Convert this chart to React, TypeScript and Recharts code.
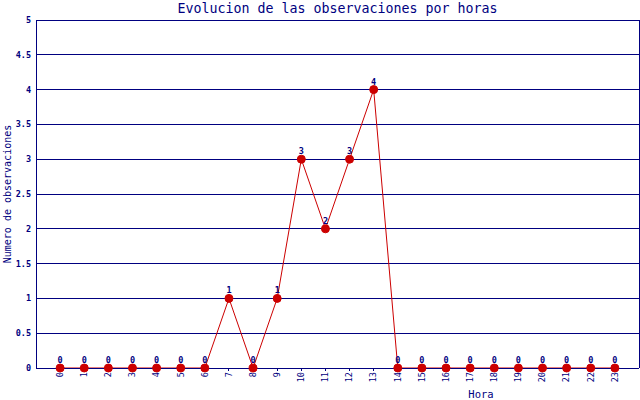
import React from 'react';
import {
  LineChart,
  Line,
  XAxis,
  YAxis,
  CartesianGrid,
  ReferenceLine,
  LabelList,
} from 'recharts';

const hours = [0, 1, 2, 3, 4, 5, 6, 7, 8, 9, 10, 11, 12, 13, 14, 15, 16, 17, 18, 19, 20, 21, 22, 23];
const observations = [0, 0, 0, 0, 0, 0, 0, 1, 0, 1, 3, 2, 3, 4, 0, 0, 0, 0, 0, 0, 0, 0, 0, 0];
const yTicks = [0, 0.5, 1, 1.5, 2, 2.5, 3, 3.5, 4, 4.5, 5];

const data = hours.map((h, i) => ({ hora: h, obs: observations[i] }));

const NAVY = '#000080';
const RED = '#cc0000';
const MONO = '"DejaVu Sans Mono", monospace';

const HourTick = (props: any) => {
  const { x, payload } = props;
  return (
    <text
      x={x}
      y={372}
      transform={`rotate(-90, ${x}, 372)`}
      textAnchor="end"
      dy="0.33em"
      fill={NAVY}
      fontSize={8.5}
      fontFamily={MONO}
    >
      {payload.value}
    </text>
  );
};

const App: React.FC = () => {
  return (
    <div style={{ position: 'absolute', left: 0, top: 0, width: 640, height: 400, background: '#fff' }}>
      <div
        style={{
          position: 'absolute',
          left: 36,
          width: 603,
          top: 0,
          textAlign: 'center',
          fontFamily: MONO,
          fontSize: 13.3,
          lineHeight: '18px',
          color: NAVY,
        }}
      >
        Evolucion de las observaciones por horas
      </div>
      <div
        style={{
          position: 'absolute',
          left: 8,
          top: 194,
          transform: 'translate(-50%, -50%) rotate(-90deg)',
          whiteSpace: 'nowrap',
          fontFamily: MONO,
          fontSize: 10,
          lineHeight: '12px',
          color: NAVY,
        }}
      >
        Numero de observaciones
      </div>
      <div
        style={{
          position: 'absolute',
          left: 481,
          top: 394,
          transform: 'translate(-50%, -50%)',
          fontFamily: MONO,
          fontSize: 10.5,
          lineHeight: '12px',
          color: NAVY,
        }}
      >
        Hora
      </div>
      <div style={{ position: 'absolute', left: 0, top: 0 }}>
        <LineChart width={640} height={400} data={data} margin={{ top: 20, right: 1, bottom: 0, left: 0 }}>
          <CartesianGrid
            horizontal
            vertical={false}
            stroke={NAVY}
            strokeWidth={1}
            shapeRendering="crispEdges"
          />
          <XAxis
            dataKey="hora"
            type="number"
            domain={[-1, 24]}
            ticks={hours}
            interval={0}
            height={32}
            stroke={NAVY}
            tickSize={3}
            tick={<HourTick />}
            shapeRendering="crispEdges"
          />
          <YAxis
            type="number"
            domain={[0, 5]}
            ticks={yTicks}
            width={36}
            stroke={NAVY}
            tickLine={false}
            tickSize={0}
            tickMargin={5}
            tick={{ fill: NAVY, fontSize: 8.5, fontWeight: 'bold', fontFamily: MONO }}
            shapeRendering="crispEdges"
          />
          <ReferenceLine x={24} stroke={NAVY} strokeWidth={1} shapeRendering="crispEdges" />
          <Line
            type="linear"
            dataKey="obs"
            stroke={RED}
            strokeWidth={1}
            dot={{ r: 4, fill: RED, stroke: RED, strokeWidth: 1 }}
            isAnimationActive={false}
          >
            <LabelList
              dataKey="obs"
              position="top"
              offset={5}
              fill={NAVY}
              fontSize={8.5}
              fontWeight="bold"
              fontFamily={MONO}
            />
          </Line>
        </LineChart>
      </div>
    </div>
  );
};

export default App;
